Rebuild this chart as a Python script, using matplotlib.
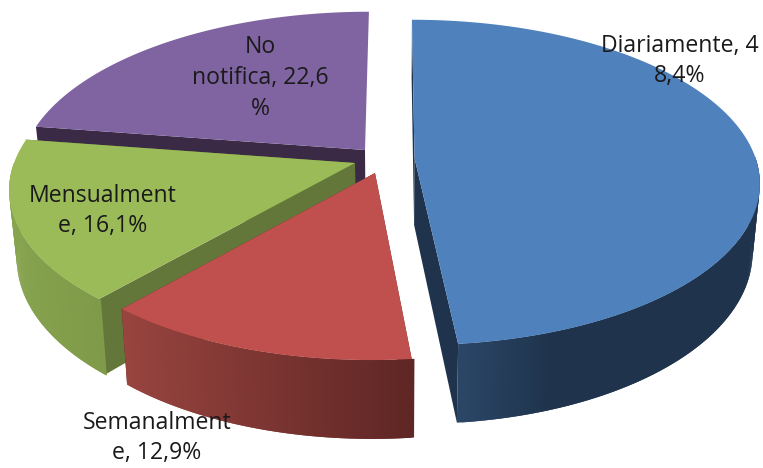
import numpy as np
import matplotlib
matplotlib.use('Agg')
import matplotlib.pyplot as plt

# data
categories = ['Diariamente', 'Semanalmente', 'Mensualmente', 'No notifica']
values = [48.4, 12.9, 16.1, 22.6]
label_texts = ['Diariamente, 4\n8,4%', 'Semanalment\ne, 12,9%', 'Mensualment\ne, 16,1%', 'No\nnotifica, 22,6\n%']

# look of the slices
top_colors = ['#4F81BD', '#C0504D', '#9BBB59', '#8064A2']
face_colors = ['#1F344C', '#5E2624', '#64773A', '#3A2A45']
wall_left = ['#2B4668', '#98443F', '#86A34E', '#5F4A7A']
wall_right = ['#1F344C', '#5E2624', '#7F9A49', '#4A3A60']
wall_span = [0.3, 1.0, 1.0, 1.0]
apex = [(414.5, 158), (375, 173), (355, 163), (365, 150)]
label_pos = [(680, 61), (157, 438), (103, 211), (260, 78)]
start_angle = 0.0
rx, ry, persp, depth, vx = 341, 159, 0.15, 67, 395

plt.rcParams['font.family'] = ['Open Sans', 'DejaVu Sans']


def project(cx, cy, theta, r=1.0, low=False):
    # theta in degrees, clockwise from the top of the pie
    t = np.radians(theta)
    p = 1 / (1 + persp * r * np.cos(t))
    x = vx + (cx - vx + rx * r * np.sin(t)) * p
    y = cy - ry * r * np.cos(t) * p
    if low:
        x = vx + (x - vx) * 0.98
        y = y + depth * p
    return x, y


def lerp_color(c1, c2, f):
    a = np.array(matplotlib.colors.to_rgb(c1))
    b = np.array(matplotlib.colors.to_rgb(c2))
    return tuple(a + (b - a) * f)


fig = plt.figure(figsize=(7.63, 4.68), dpi=100)
ax = fig.add_axes([0, 0, 1, 1])
ax.set_xlim(0, 763)
ax.set_ylim(468, 0)
ax.axis('off')

edges = start_angle + 360 * np.concatenate([[0], np.cumsum(values)]) / np.sum(values)

# painter's order, back slices first
for i in [3, 2, 1, 0]:
    cx, cy = apex[i]
    a0, a1 = edges[i], edges[i + 1]
    thetas = np.linspace(a0, a1, 120)

    # cut faces, the closing edge at the top of the pie faces away
    for a in (a0, a1):
        if a >= 360:
            continue
        pts = [project(cx, cy, a, 0), project(cx, cy, a), project(cx, cy, a, low=True), project(cx, cy, a, 0, low=True)]
        ax.fill(*zip(*pts), color=face_colors[i], lw=0, zorder=i * -10 + 1)

    # outer wall, front side only, shaded strip by strip
    front = np.linspace(max(a0, 90), min(a1, 270), 120)
    if front[-1] > front[0]:
        xs_all = [project(cx, cy, a)[0] for a in front]
        x_lo, x_hi = min(xs_all), max(xs_all)
        # strips are walked left to right and overlap the next one to hide the seams
        strips = list(zip(front[:-1], front[1:]))
        strips.sort(key=lambda s: -project(cx, cy, s[0])[0])
        for a, b in strips:
            step = b - a
            pts = [project(cx, cy, a - step), project(cx, cy, b), project(cx, cy, b, low=True), project(cx, cy, a - step, low=True)]
            f = (project(cx, cy, a)[0] - x_lo) / (x_hi - x_lo)
            f = min(f / wall_span[i], 1.0)
            ax.fill(*zip(*pts), color=lerp_color(wall_left[i], wall_right[i], f), lw=0, zorder=i * -10 + 2)

    # top
    top = [project(cx, cy, a0, 0)] + [project(cx, cy, a) for a in thetas]
    ax.fill(*zip(*top), color=top_colors[i], lw=0, zorder=i * -10 + 3)

for txt, (x, y) in zip(label_texts, label_pos):
    ax.text(x, y, txt, ha='center', va='center', fontsize=16.6, color='#1a1a1a', linespacing=1.38, zorder=10)

fig.savefig('out.png', dpi=100)
